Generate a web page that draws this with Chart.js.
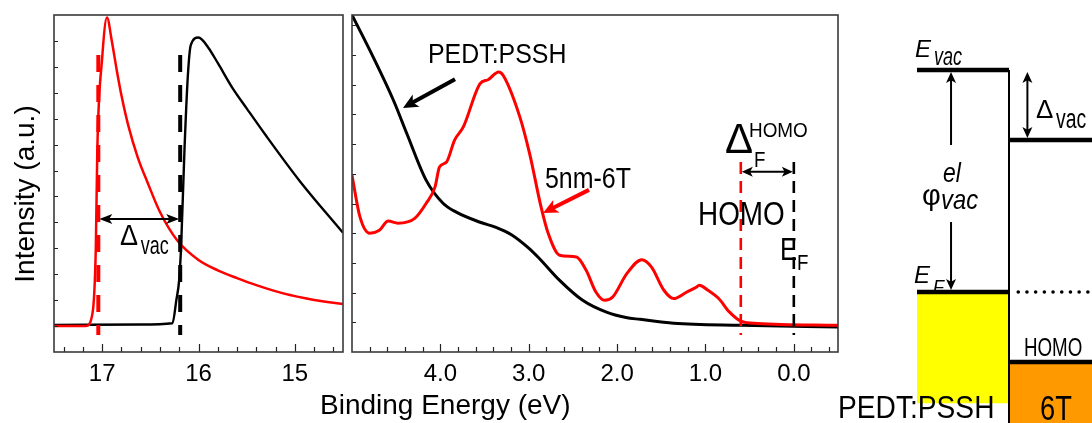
<!DOCTYPE html>
<html lang="en">
<head>
<meta charset="UTF-8">
<title>UPS: PEDT:PSSH / 5nm-6T</title>
<script src="https://cdn.jsdelivr.net/npm/chart.js@4.4.1/dist/chart.umd.min.js"></script>
<style>
  body { margin: 0; width: 1092px; height: 423px; overflow: hidden; background: #fff; position: relative;
         font-family: "Liberation Sans", Arial, sans-serif; }
  canvas { position: absolute; top: 0; }
  #cutoff { left: 0; }
  #valence { left: 346px; }
  #diagram { left: 836px; }
  .axis-title { position: absolute; font-size: 28px; line-height: 28px; white-space: nowrap; color: #000; }
  #xTitle { left: 320px; top: 391px; }
  #yTitle { left: -124.6px; top: 179.5px; width: 300px; text-align: center; transform: rotate(-90deg); }
</style>
</head>
<body>
<canvas id="cutoff" width="348" height="423"></canvas>
<canvas id="valence" width="496" height="423"></canvas>
<canvas id="diagram" width="256" height="423"></canvas>
<div id="xTitle" class="axis-title">Binding Energy (eV)</div>
<div id="yTitle" class="axis-title">Intensity (a.u.)</div>
<script>
// ---- left panel: secondary electron cutoff ----
const cutoffRedE   = [17.5, 17.17, 17.1, 17.066, 17.05, 17.0, 16.95, 16.9, 16.85, 16.8, 16.73, 16.63, 16.53, 16.4, 16.22, 16.0, 15.8, 15.6, 15.4, 15.12, 14.8, 14.5];
const cutoffRedI   = [10.0, 10.0, 15.0, 40.0, 78.7, 113.4, 129.0, 120.0, 109.0, 99.0, 87.5, 75.0, 65.5, 54.0, 43.0, 35.5, 31.5, 28.5, 25.8, 22.6, 20.1, 18.5];
const cutoffBlackE = [17.5, 16.6, 16.27, 16.23, 16.2, 16.18, 16.145, 16.11, 16.08, 16.0, 15.9, 15.8, 15.65, 15.5, 15.3, 14.95, 14.5];
const cutoffBlackI = [10.4, 10.6, 11.1, 20.0, 28.0, 41.3, 78.6, 106.9, 118.4, 121.3, 117.5, 111.5, 102.0, 94.0, 83.5, 66.0, 46.0];

// ---- middle panel: valence region ----
const valenceBlackE = [5.0, 4.76, 4.53, 4.38, 4.16, 3.97, 3.82, 3.55, 3.37, 3.2, 3.0, 2.88, 2.65, 2.39, 2.12, 1.9, 1.74, 1.36, 0.6, -0.5];
const valenceBlackI = [113.5, 99.3, 84.7, 73.6, 57.8, 50.1, 47.1, 43.7, 42.0, 39.6, 35.0, 31.5, 24.1, 17.4, 13.4, 11.6, 11.0, 9.7, 9.0, 8.4];
const valenceRedE = [5.0, 4.91, 4.8, 4.69, 4.59, 4.48, 4.29, 4.16, 4.06, 4.01, 3.93, 3.84, 3.74, 3.55, 3.46, 3.34, 3.29, 3.10, 2.99, 2.86,
                     2.78, 2.65, 2.46, 2.35, 2.24, 2.14, 2.05, 1.89, 1.72, 1.61, 1.47, 1.36, 1.21, 1.11, 1.07, 0.98, 0.85, 0.73, 0.6, 0.41, -0.5];
const valenceRedI = [59.5, 45.5, 40.0, 41.0, 44.1, 43.4, 45.0, 50.1, 55.6, 62.3, 64.0, 71.3, 75.8, 90.4, 91.7, 94.3, 93.2, 79.1, 66.8, 48.8,
                     40.0, 32.6, 32.0, 27.5, 20.2, 17.4, 18.5, 26.4, 31.1, 28.6, 20.8, 18.0, 20.2, 21.7, 22.5, 21.0, 18.0, 13.5, 10.4, 9.6, 9.0];

// ---- ticks ----
const cutoffTicks = [17.4, 17.2, 17.0, 16.8, 16.6, 16.4, 16.2, 16.0, 15.8, 15.6, 15.4, 15.2, 15.0, 14.8, 14.6];
const cutoffMajor = [17, 16, 15];
const cutoffLabels = ['17', '16', '15'];
const valenceTicks = [4.8, 4.6, 4.4, 4.2, 4.0, 3.8, 3.6, 3.4, 3.2, 3.0, 2.8, 2.6, 2.4, 2.2, 2.0, 1.8, 1.6, 1.4, 1.2, 1.0, 0.8, 0.6, 0.4, 0.2, 0.0, -0.2, -0.4];
const valenceMajor = [4, 3, 2, 1, 0];
const valenceLabels = ['4.0', '3.0', '2.0', '1.0', '0.0'];
const cutoffYTicks = [10, 20, 30, 40, 50, 60, 70, 80, 90, 100, 110, 120];
const valenceYTicks = [10, 20, 30, 40, 50, 60, 70, 80, 90, 100, 110];

// ---- energy level diagram (schematic units) ----
const pedtVac = 3.17;     // E_vac of PEDT:PSSH
const sixTVac = 2.17;     // E_vac of 6T (shifted by Delta_vac)
const fermiLevel = 0;     // E_F
const sixTHomo = -1;      // HOMO of 6T
const pedtBase = -1.59;   // bottom of the filled PEDT:PSSH block

const FONT = '"Liberation Sans", Arial, sans-serif';
const pts = (xs, ys) => xs.map((x, i) => ({ x: x, y: ys[i] }));

function txt(ctx, s, x, y, size, o = {}) {
  ctx.save();
  ctx.font = (o.italic ? 'italic ' : '') + size + 'px ' + FONT;
  ctx.fillStyle = o.color || '#000';
  ctx.textBaseline = 'alphabetic';
  ctx.translate(x, y);
  ctx.scale(o.sx || 1, 1);
  ctx.fillText(s, 0, 0);
  ctx.restore();
}

function arrow(ctx, x1, y1, x2, y2, o = {}) {
  const hl = o.head || 10, hw = o.headW || 5, col = o.color || '#000';
  ctx.save();
  ctx.strokeStyle = col; ctx.fillStyle = col; ctx.lineWidth = o.width || 2;
  const a = Math.atan2(y2 - y1, x2 - x1), c = Math.cos(a), s = Math.sin(a);
  ctx.beginPath();
  ctx.moveTo(o.both ? x1 + c * hl * 0.7 : x1, o.both ? y1 + s * hl * 0.7 : y1);
  ctx.lineTo(x2 - c * hl * 0.7, y2 - s * hl * 0.7);
  ctx.stroke();
  const head = (x, y, ang) => {
    const cc = Math.cos(ang), ss = Math.sin(ang);
    ctx.beginPath();
    ctx.moveTo(x, y);
    ctx.lineTo(x - cc * hl - ss * hw, y - ss * hl + cc * hw);
    ctx.lineTo(x - cc * hl * 0.75, y - ss * hl * 0.75);
    ctx.lineTo(x - cc * hl + ss * hw, y - ss * hl - cc * hw);
    ctx.closePath();
    ctx.fill();
  };
  head(x2, y2, a);
  if (o.both) head(x1, y1, a + Math.PI);
  ctx.restore();
}

function vdash(ctx, x, y1, y2, color, width, dash) {
  ctx.save();
  ctx.strokeStyle = color; ctx.lineWidth = width; ctx.setLineDash(dash);
  ctx.beginPath(); ctx.moveTo(x, y1); ctx.lineTo(x, y2); ctx.stroke();
  ctx.restore();
}

// frame + inward tick marks for the two spectra panels
const frameTicks = {
  id: 'frameTicks',
  afterDatasetsDraw(chart) {
    const { ctx, chartArea: a, scales: { x, y } } = chart;
    ctx.save();
    ctx.strokeStyle = '#222';
    ctx.lineWidth = 1.2;
    ctx.beginPath();
    x.ticks.forEach(t => {
      const px = Math.round(x.getPixelForValue(t.value)) + 0.5;
      ctx.moveTo(px, a.bottom); ctx.lineTo(px, a.bottom - (t.label ? 8 : 5));
    });
    y.ticks.forEach(t => {
      const py = Math.round(y.getPixelForValue(t.value)) + 0.5;
      ctx.moveTo(a.left, py); ctx.lineTo(a.left + 4, py);
    });
    ctx.stroke();
    ctx.strokeStyle = '#3a3a3a';
    ctx.lineWidth = 1.6;
    ctx.strokeRect(a.left, a.top, a.right - a.left, a.bottom - a.top);
    ctx.restore();
  }
};

function spectraOptions(xMin, xMax, ticks, major, labels, yMax, yTicks, yWidth, padRight) {
  const lab = v => { const i = major.findIndex(m => Math.abs(m - v) < 1e-6); return i >= 0 ? labels[i] : ''; };
  return {
    responsive: false,
    animation: false,
    events: [],
    layout: { padding: { top: 15, right: padRight, left: 0, bottom: 0 } },
    plugins: { legend: { display: false }, tooltip: { enabled: false } },
    elements: { point: { radius: 0 }, line: { cubicInterpolationMode: 'monotone' } },
    scales: {
      x: {
        type: 'linear', reverse: true, min: xMin, max: xMax,
        afterBuildTicks: s => { s.ticks = ticks.map(v => ({ value: v })); },
        afterFit: s => { s.height = 71; },
        grid: { display: false, drawTicks: false },
        border: { display: false },
        ticks: { callback: lab, autoSkip: false, maxRotation: 0, padding: 8, color: '#000',
                 font: { family: FONT, size: 24 } }
      },
      y: {
        min: 0, max: yMax,
        afterBuildTicks: s => { s.ticks = yTicks.map(v => ({ value: v })); },
        afterFit: s => { s.width = yWidth; },
        grid: { display: false, drawTicks: false },
        border: { display: false },
        ticks: { display: false }
      }
    }
  };
}

// ---- left chart ----
const cutoffNotes = {
  id: 'cutoffNotes',
  afterDraw(chart) {
    const { ctx, scales: { x, y } } = chart;
    const X = v => x.getPixelForValue(v), Y = v => y.getPixelForValue(v);
    vdash(ctx, X(17.04), Y(114.6), Y(6.6), '#ff0000', 4, [17, 13]);
    vdash(ctx, X(16.19), Y(114.6), Y(6.6), '#000', 4, [17, 13]);
    arrow(ctx, X(17.04) + 1, Y(51.3), X(16.19) - 1, Y(51.3), { both: true, width: 2, head: 13, headW: 5 });
    txt(ctx, 'Δ', X(16.815), Y(41.3), 30, { sx: 0.9 });
    txt(ctx, 'vac', X(16.60), Y(37.8), 25, { sx: 0.72 });
  }
};

new Chart(document.getElementById('cutoff'), {
  type: 'line',
  data: {
    datasets: [
      { label: '5nm-6T', data: pts(cutoffRedE, cutoffRedI), borderColor: '#ff0000', borderWidth: 2.5, fill: false },
      { label: 'PEDT:PSSH', data: pts(cutoffBlackE, cutoffBlackI), borderColor: '#000', borderWidth: 2.4, fill: false }
    ]
  },
  options: spectraOptions(14.5, 17.5, cutoffTicks, cutoffMajor, cutoffLabels, 130, cutoffYTicks, 54, 5),
  plugins: [frameTicks, cutoffNotes]
});

// ---- middle chart ----
const valenceNotes = {
  id: 'valenceNotes',
  afterDraw(chart) {
    const { ctx, scales: { x, y } } = chart;
    const X = v => x.getPixelForValue(v), Y = v => y.getPixelForValue(v);
    txt(ctx, 'PEDT:PSSH', X(4.14), Y(97.3), 28, { sx: 0.89 });
    arrow(ctx, X(3.834), Y(91.9), X(4.423), Y(82.2), { width: 4, head: 15, headW: 7 });
    txt(ctx, '5nm-6T', X(2.816), Y(55.2), 29, { sx: 0.86 });
    arrow(ctx, X(2.318), Y(54.6), X(2.838), Y(46.8), { width: 4, head: 15, headW: 7, color: '#ff0000' });
    vdash(ctx, X(0.6), Y(64.0), Y(5.7), '#ff0000', 2.6, [12, 7]);
    vdash(ctx, X(0.0), Y(64.0), Y(5.7), '#000', 2.6, [12, 7]);
    arrow(ctx, X(0.6) + 1, Y(60.7), X(0.0) - 1, Y(60.7), { both: true, width: 2, head: 11, headW: 5 });
    txt(ctx, 'Δ', X(0.779), Y(67.0), 42);
    txt(ctx, 'HOMO', X(0.507), Y(72.4), 21, { sx: 0.9 });
    txt(ctx, 'F', X(0.45), Y(62.3), 22, { sx: 0.85 });
    txt(ctx, 'HOMO', X(1.084), Y(42.8), 34, { sx: 0.82 });
    txt(ctx, 'E', X(0.156), Y(31.0), 32, { sx: 0.8 });
    txt(ctx, 'F', X(-0.036), Y(27.6), 22, { sx: 0.85 });
  }
};

new Chart(document.getElementById('valence'), {
  type: 'line',
  data: {
    datasets: [
      { label: '5nm-6T', data: pts(valenceRedE, valenceRedI), borderColor: '#ff0000', borderWidth: 3, fill: false },
      { label: 'PEDT:PSSH', data: pts(valenceBlackE, valenceBlackI), borderColor: '#000', borderWidth: 3, fill: false }
    ]
  },
  options: spectraOptions(-0.5, 5.0, valenceTicks, valenceMajor, valenceLabels, 113.5, valenceYTicks, 6, 4),
  plugins: [frameTicks, valenceNotes]
});

// ---- energy level diagram ----
const diagramNotes = {
  id: 'diagramNotes',
  afterDraw(chart) {
    const { ctx, scales: { x, y } } = chart;
    const X = v => x.getPixelForValue(v), Y = v => y.getPixelForValue(v);
    const x0 = X(0), x1 = X(1);
    txt(ctx, 'E', x0 - 2, Y(pedtVac) - 13, 24, { italic: true });
    txt(ctx, 'vac', x0 + 17, Y(pedtVac) - 5, 25, { italic: true, sx: 0.72 });
    arrow(ctx, X(1.2), Y(pedtVac) + 2, X(1.2), Y(sixTVac) - 2, { both: true, width: 2, head: 11, headW: 5 });
    txt(ctx, 'Δ', x1 + 27, Y(pedtVac) + 48, 26);
    txt(ctx, 'vac', x1 + 47, Y(pedtVac) + 58, 27, { sx: 0.72 });
    arrow(ctx, X(0.37), Y(2.1), X(0.37), Y(pedtVac) + 2, { width: 2, head: 11, headW: 5 });
    arrow(ctx, X(0.37), Y(1.0), X(0.37), Y(fermiLevel) - 2, { width: 2, head: 11, headW: 5 });
    txt(ctx, 'φ', x0 + 5, 205, 29);
    txt(ctx, 'el', x0 + 26, 182, 27, { italic: true, sx: 0.85 });
    txt(ctx, 'vac', x0 + 24, 209, 28, { italic: true, sx: 0.85 });
    txt(ctx, 'E', x0 - 3, Y(fermiLevel) - 9, 24, { italic: true });
    txt(ctx, 'F', x0 + 16, Y(fermiLevel) + 1, 18, { italic: true });
    txt(ctx, 'HOMO', x1 + 15, Y(sixTHomo) - 6, 25, { sx: 0.75 });
    txt(ctx, '6T', x1 + 31, 420, 35, { sx: 0.78 });
    txt(ctx, 'PEDT:PSSH', x0 - 79, 418, 32, { sx: 0.88 });
  }
};

new Chart(document.getElementById('diagram'), {
  type: 'line',
  data: {
    datasets: [
      { label: 'interface', data: [{ x: 1, y: pedtVac }, { x: 1, y: -1.871 }], borderColor: '#000', borderWidth: 2, fill: false },
      { label: 'E_F PEDT:PSSH', data: [{ x: 0, y: fermiLevel }, { x: 1, y: fermiLevel }], borderColor: '#000', borderWidth: 4.5,
        fill: { value: pedtBase }, backgroundColor: '#ffff00' },
      { label: 'HOMO 6T', data: [{ x: 1, y: sixTHomo }, { x: 1.91, y: sixTHomo }], borderColor: '#000', borderWidth: 4.5,
        fill: 'start', backgroundColor: '#ff9900' },
      { label: 'E_vac PEDT:PSSH', data: [{ x: 0, y: pedtVac }, { x: 1, y: pedtVac }], borderColor: '#000', borderWidth: 4.5, fill: false },
      { label: 'E_vac 6T', data: [{ x: 1, y: sixTVac }, { x: 1.91, y: sixTVac }], borderColor: '#000', borderWidth: 4.5, fill: false },
      { label: 'E_F 6T', data: [{ x: 1.1, y: fermiLevel }, { x: 1.91, y: fermiLevel }], borderColor: '#000', borderWidth: 3.5,
        borderDash: [0.1, 8.6], borderCapStyle: 'round', fill: false }
    ]
  },
  options: {
    responsive: false,
    animation: false,
    events: [],
    layout: { padding: 0 },
    plugins: { legend: { display: false }, tooltip: { enabled: false } },
    elements: { point: { radius: 0 }, line: { tension: 0 } },
    scales: {
      x: { type: 'linear', min: -0.8804, max: 1.9022, display: false },
      y: { min: -1.871, max: 4.171, display: false }
    }
  },
  plugins: [diagramNotes]
});
</script>
</body>
</html>
